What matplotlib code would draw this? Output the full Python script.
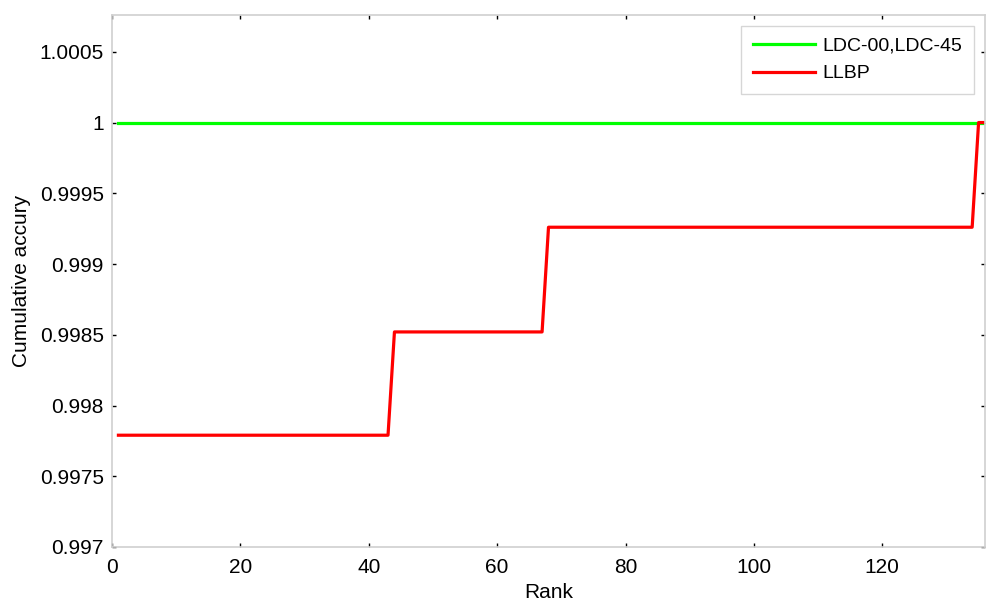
import matplotlib
matplotlib.use("Agg")
import matplotlib.pyplot as plt
import numpy as np

plt.rcParams['font.family'] = ['Liberation Sans', 'DejaVu Sans']

rank = np.arange(1, 137)
ldc_value = 1.0
# LLBP step levels and the last rank of each level
llbp_levels = [0.99779, 0.99852, 0.99926, 1.0]
llbp_level_ends = [43, 67, 134, 136]

ldc = np.full(rank.shape, ldc_value)
llbp = np.empty(rank.shape)
start = 0
for lvl, end in zip(llbp_levels, llbp_level_ends):
    llbp[start:end] = lvl
    start = end

yticks = [0.997, 0.9975, 0.998, 0.9985, 0.999, 0.9995, 1.0, 1.0005]
ytick_labels = ['0.997', '0.9975', '0.998', '0.9985', '0.999', '0.9995', '1', '1.0005']
xticks = [0, 20, 40, 60, 80, 100, 120]

fig = plt.figure(figsize=(10, 6.1), dpi=100)
ax = fig.add_axes([0.112, 0.1033, 0.873, 0.8721])
ax.plot(rank, ldc, color='#00ff00', lw=2.3, label='LDC-00,LDC-45')
ax.plot(rank, llbp, color='#ff0000', lw=2.3, label='LLBP')

ax.set_xlim(0, 136)
ax.set_ylim(0.997, 1.00076)
ax.set_yticks(yticks)
ax.set_yticklabels(ytick_labels)
ax.set_xticks(xticks)
ax.tick_params(direction='in', length=3, width=1, color='black', labelsize=15,
               top=True, right=True)
ax.tick_params(axis='x', pad=8)
ax.tick_params(axis='y', pad=6)
for s in ax.spines.values():
    s.set_color('#d0d0d0')
    s.set_linewidth(1.2)

ax.set_xlabel('Rank', fontsize=15, labelpad=4)
ax.set_ylabel('Cumulative accury', fontsize=15, labelpad=6)

leg = ax.legend(loc='upper right', fontsize=14, handlelength=3.2, frameon=True,
                fancybox=False, borderaxespad=0.55, labelspacing=0.5,
                borderpad=0.6, handletextpad=0.4)
leg.get_frame().set_edgecolor('#cccccc')
leg.get_frame().set_linewidth(1.0)

fig.savefig('out.png', dpi=100)
